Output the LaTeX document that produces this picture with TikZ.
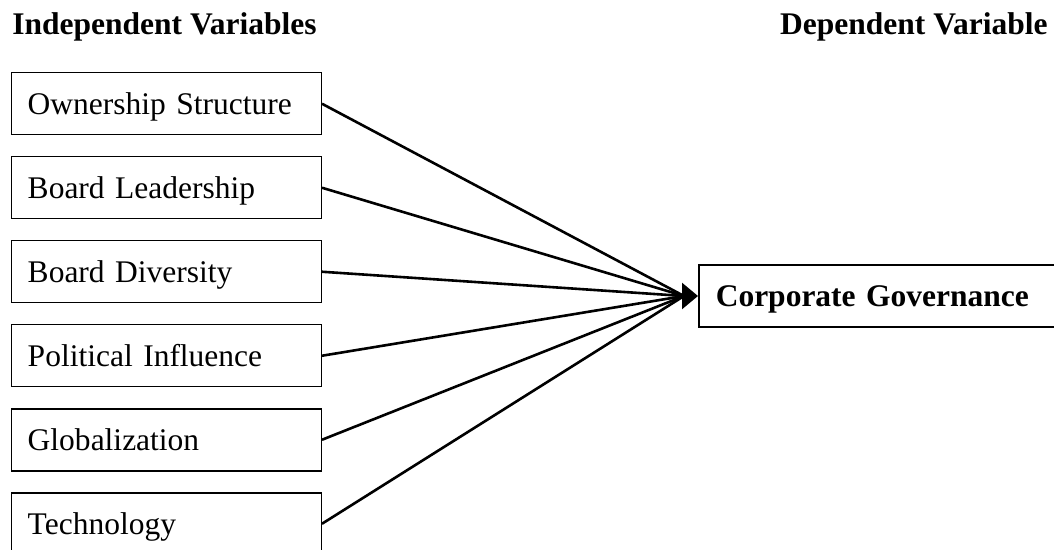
\documentclass[tikz,border=0pt]{standalone}
\usepackage{fontspec}
\setmainfont{Liberation Serif}
\usetikzlibrary{arrows.meta}
\begin{document}
\begin{tikzpicture}[x=0.5pt,y=-0.5pt,
  txt/.style={font=\fontsize{15.75}{18}\selectfont},
  head/.style={font=\fontsize{15.75}{18}\selectfont\bfseries, inner sep=0pt},
  ivbox/.style={draw, line width=0.75pt, anchor=north west, text width=138.5pt,
    inner xsep=8.25pt, inner ysep=0pt, minimum height=31pt, align=left,
    text height=10.5pt, text depth=0pt, txt},
  dvbox/.style={draw, line width=0.75pt, anchor=west, text width=190pt,
    inner xsep=8.5pt, inner ysep=0pt, minimum height=31pt, align=left,
    text height=10.5pt, text depth=0pt, font=\fontsize{15.75}{18}\selectfont\bfseries},
  link/.style={line width=1.3pt},
]
\useasboundingbox (0,0) rectangle (1054,550);
\clip (0,0) rectangle (1054,550);

\node[head, anchor=base west] (ivh) at (12,35) {Independent Variables};
\node[head, anchor=base east] (dvh) at (1048,35) {Dependent Variable};

\node[ivbox] (own) at (10.5,72) {Ownership Structure};
\node[ivbox] (lead) at (10.5,156) {Board Leadership};
\node[ivbox] (div) at (10.5,240) {Board Diversity};
\node[ivbox] (pol) at (10.5,324) {Political Influence};
\node[ivbox] (glob) at (10.5,408) {Globalization};
\node[ivbox] (tech) at (10.5,492) {Technology};

\node[dvbox] (cg) at (698,296) {Corporate Governance};

\coordinate (conv) at (684,296);

\foreach \n in {own,lead,div,pol,glob,tech}
  \draw[link] (\n.east) -- (conv);
\draw[link, -{Triangle[length=8pt,width=13pt]}] (conv) -- (cg.west);
\end{tikzpicture}
\end{document}
